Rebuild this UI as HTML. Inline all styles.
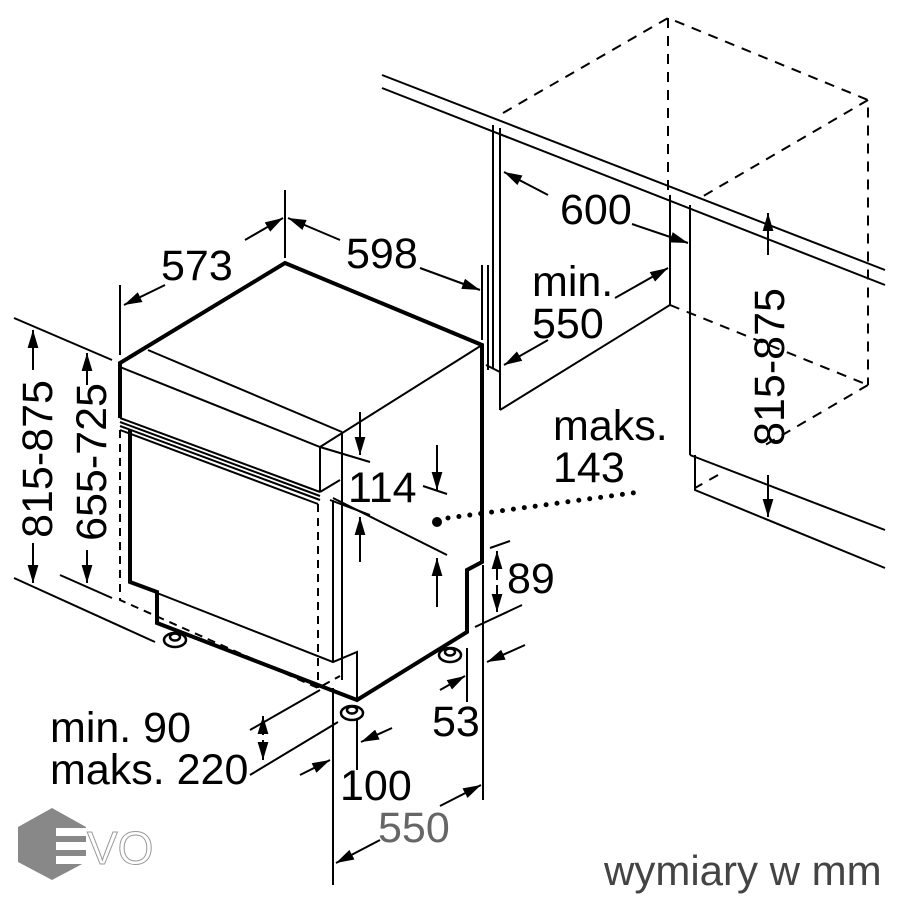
<!DOCTYPE html>
<html><head><meta charset="utf-8"><style>
body{margin:0;background:#fff}
svg{display:block}
text{font-family:"Liberation Sans",sans-serif;fill:#000}
</style></head><body>
<svg width="900" height="900" viewBox="0 0 900 900" xmlns="http://www.w3.org/2000/svg">
<defs>
<marker id="b" viewBox="0 0 10 10" refX="10" refY="5" markerWidth="18" markerHeight="18" orient="auto-start-reverse" markerUnits="userSpaceOnUse"><path d="M0,2 L10,5 L0,8 z" fill="#000"/></marker>
</defs>
<g fill="none" stroke="#000" stroke-width="2">
<line x1="382" y1="75" x2="885" y2="270"/>
<line x1="382" y1="88" x2="885" y2="285"/>
<line x1="493" y1="125" x2="493" y2="368"/>
<line x1="500" y1="128" x2="500" y2="410"/>
<polyline points="486,365 500,372"/>
<polyline points="500,410 670,305 670,195"/>
<line x1="690" y1="205" x2="690" y2="455"/>
<polyline points="690,455 885,530"/>
<polyline points="695,455 695,490 885,568"/>
</g>
<g fill="none" stroke="#000" stroke-width="2" stroke-dasharray="10,8">
<polyline points="503,113 668,18 868,100 868,385"/>
<line x1="668" y1="18" x2="668" y2="195"/>
<line x1="868" y1="100" x2="700" y2="198"/>
<polyline points="670,305 868,385"/>
<polyline points="868,385 760,448"/>
<polyline points="718,475 695,488"/>
</g>
<g fill="none" stroke="#000" stroke-width="4" stroke-linejoin="miter">
<polyline points="120,418 120,363 285,263 482,345 482,562 467,570 467,632 357,700 157,623 157,592 130,582 130,430"/>
</g>
<g fill="none" stroke="#000" stroke-width="2">
<polyline points="120,367 320,447 482,345"/>
<line x1="148" y1="350" x2="342" y2="432"/>
<line x1="320" y1="447" x2="320" y2="492"/>
<line x1="342" y1="432" x2="342" y2="680"/>
<line x1="333" y1="500" x2="333" y2="662"/>
<polyline points="157,593 333,662 357,652 357,700"/>
<line x1="120" y1="418" x2="320" y2="492"/>
<line x1="120" y1="422" x2="320" y2="496"/>
<line x1="120" y1="426" x2="320" y2="500"/>
<line x1="120" y1="430" x2="318" y2="504"/>
<polyline points="320,492 340,480"/>
</g>
<g fill="none" stroke="#000" stroke-width="2" stroke-dasharray="8,6">
<polyline points="120,430 120,600 318,688 340,676"/>
<line x1="318" y1="504" x2="318" y2="688"/>
</g>
<g fill="#fff" stroke="#000" stroke-width="2.5">
<ellipse cx="175" cy="640" rx="11" ry="7"/><ellipse cx="175" cy="637" rx="5" ry="3.5"/>
<ellipse cx="352" cy="713" rx="11" ry="7"/><ellipse cx="352" cy="710" rx="5" ry="3.5"/>
<ellipse cx="450" cy="655" rx="11" ry="7"/><ellipse cx="450" cy="652" rx="5" ry="3.5"/>
</g>
<g fill="none" stroke="#000" stroke-width="2">
<line x1="14" y1="318" x2="112" y2="360"/>
<line x1="14" y1="578" x2="155" y2="642"/>
<line x1="60" y1="575" x2="112" y2="598"/>
<line x1="33" y1="370" x2="33" y2="330" marker-end="url(#b)"/>
<line x1="33" y1="543" x2="33" y2="583" marker-end="url(#b)"/>
<line x1="87" y1="385" x2="87" y2="353" marker-end="url(#b)"/>
<line x1="87" y1="550" x2="87" y2="583" marker-end="url(#b)"/>
<line x1="120" y1="285" x2="120" y2="355"/>
<line x1="285" y1="190" x2="285" y2="258"/>
<line x1="165" y1="285" x2="124" y2="305" marker-end="url(#b)"/>
<line x1="245" y1="240" x2="283" y2="218" marker-end="url(#b)"/>
<line x1="340" y1="240" x2="288" y2="218" marker-end="url(#b)"/>
<line x1="420" y1="268" x2="480" y2="290" marker-end="url(#b)"/>
<line x1="482" y1="265" x2="482" y2="340"/>
<line x1="488" y1="265" x2="488" y2="370"/>
<line x1="548" y1="195" x2="504" y2="172" marker-end="url(#b)"/>
<line x1="632" y1="224" x2="688" y2="243" marker-end="url(#b)"/>
<line x1="615" y1="298" x2="668" y2="268" marker-end="url(#b)"/>
<line x1="548" y1="340" x2="504" y2="365" marker-end="url(#b)"/>
<line x1="768" y1="255" x2="768" y2="213" marker-end="url(#b)"/>
<line x1="768" y1="475" x2="768" y2="517" marker-end="url(#b)"/>
<line x1="360" y1="412" x2="360" y2="455" marker-end="url(#b)"/>
<line x1="320" y1="447" x2="370" y2="462"/>
<line x1="437" y1="445" x2="437" y2="490" marker-end="url(#b)"/>
<line x1="423" y1="486" x2="447" y2="494"/>
<line x1="330" y1="500" x2="370" y2="515"/>
<line x1="360" y1="562" x2="360" y2="517" marker-end="url(#b)"/>
<line x1="333" y1="498" x2="447" y2="555"/>
<line x1="437" y1="607" x2="437" y2="558" marker-end="url(#b)"/>
<line x1="490" y1="548" x2="510" y2="541"/>
<line x1="475" y1="627" x2="522" y2="605"/>
<line x1="497" y1="580" x2="497" y2="551" marker-end="url(#b)"/>
<line x1="497" y1="585" x2="497" y2="612" marker-end="url(#b)"/>
<line x1="467" y1="648" x2="467" y2="702"/>
<line x1="483" y1="565" x2="483" y2="800"/>
<line x1="440" y1="690" x2="465" y2="676" marker-end="url(#b)"/>
<line x1="525" y1="645" x2="487" y2="662" marker-end="url(#b)"/>
<line x1="357" y1="718" x2="357" y2="770"/>
<line x1="333" y1="688" x2="333" y2="885"/>
<line x1="300" y1="775" x2="330" y2="760" marker-end="url(#b)"/>
<line x1="392" y1="728" x2="361" y2="742" marker-end="url(#b)"/>
<line x1="380" y1="840" x2="336" y2="863" marker-end="url(#b)"/>
<line x1="440" y1="806" x2="481" y2="785" marker-end="url(#b)"/>
<line x1="250" y1="730" x2="320" y2="690"/>
<line x1="250" y1="775" x2="338" y2="722"/>
<line x1="263" y1="735" x2="263" y2="716" marker-end="url(#b)"/>
<line x1="263" y1="740" x2="263" y2="760" marker-end="url(#b)"/>
</g>
<circle cx="437" cy="522" r="5" fill="#000"/>
<line x1="448" y1="518" x2="640" y2="492" stroke="#000" stroke-width="5" stroke-dasharray="0,11" stroke-linecap="round"/>
<g font-size="43">
<text x="161" y="280">573</text>
<text x="346" y="268">598</text>
<text x="560" y="224">600</text>
<text x="532" y="296">min.</text>
<text x="532" y="338">550</text>
<text x="553" y="440">maks.</text>
<text x="553" y="482">143</text>
<text x="348" y="502">114</text>
<text x="507" y="593">89</text>
<text x="432" y="736">53</text>
<text x="340" y="800">100</text>
<text x="378" y="842" style="fill:#666">550</text>
<text x="50" y="742">min. 90</text>
<text x="50" y="784">maks. 220</text>
<text transform="translate(52,459) rotate(-90)" text-anchor="middle">815-875</text>
<text transform="translate(106,462) rotate(-90)" text-anchor="middle">655-725</text>
<text transform="translate(784,367) rotate(-90)" text-anchor="middle">815-875</text>
</g>
<text x="604" y="885" font-size="42" style="fill:#444">wymiary w mm</text>
<polygon points="52,808 86,827 86,862 52,880 18,862 18,827" fill="#888"/>
<g fill="#fff"><rect x="56" y="828" width="30" height="8"/><rect x="56" y="842" width="30" height="8"/><rect x="56" y="856" width="30" height="8"/></g>
<text x="87" y="864" font-size="46" style="fill:#fff;stroke:#999;stroke-width:1">VO</text>
</svg>
</body></html>
